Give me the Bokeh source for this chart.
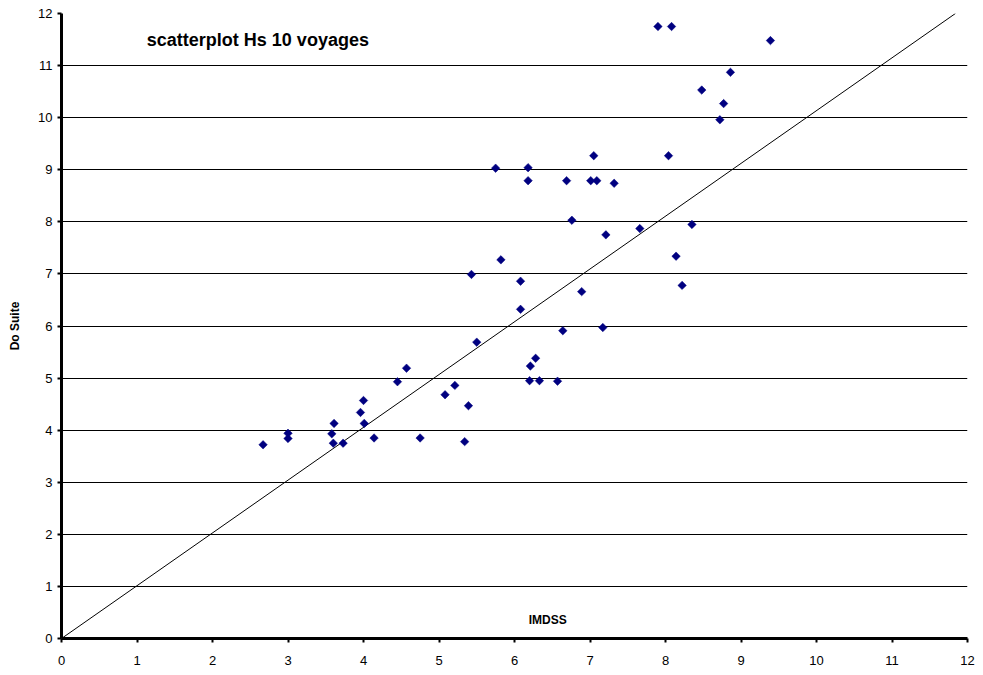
from bokeh.plotting import figure
from bokeh.models import Label, FixedTicker, ColumnDataSource, Range1d
from bokeh.embed import file_html
from bokeh.resources import INLINE
import math

# Data (IMDSS vs Do Suite significant wave height)
imdss = [2.67, 3.00, 3.00, 3.61, 3.58, 3.60, 3.73, 4.00, 3.96, 4.01, 4.14, 4.45, 4.57,
         4.75, 5.08, 5.21, 5.39, 5.34, 5.50, 6.20, 6.21, 6.28, 6.33, 6.57, 5.75, 6.18,
         6.18, 6.69, 7.01, 7.09, 7.32, 7.05, 8.04, 6.76, 7.66, 7.21, 8.35, 5.82, 5.43,
         6.08, 8.14, 8.22, 6.89, 6.08, 6.64, 7.17, 7.90, 8.08, 9.39, 8.86, 8.48, 8.77, 8.72]
do_suite = [3.72, 3.94, 3.84, 4.13, 3.93, 3.75, 3.75, 4.57, 4.34, 4.13, 3.85, 4.93, 5.19,
            3.85, 4.68, 4.86, 4.47, 3.78, 5.69, 4.95, 5.23, 5.38, 4.95, 4.94, 9.03, 9.04,
            8.79, 8.79, 8.79, 8.79, 8.74, 9.27, 9.27, 8.03, 7.87, 7.75, 7.95, 7.27, 6.99,
            6.86, 7.34, 6.78, 6.66, 6.32, 5.91, 5.97, 11.75, 11.75, 11.48, 10.87, 10.53, 10.27, 9.96]
ref_line_x = [0, 11.84]
ref_line_y = [0, 12]
ticks = list(range(0, 13))

p = figure(width=975, height=667, output_backend="svg", toolbar_location=None,
           x_range=Range1d(0, 12), y_range=Range1d(0, 12),
           min_border_left=61, min_border_right=8, min_border_top=13, min_border_bottom=20)
p.outline_line_color = None
p.background_fill_color = "white"

# grid
p.xgrid.grid_line_color = None
p.ygrid.grid_line_color = "black"
p.ygrid.grid_line_width = 1
p.ygrid.ticker = FixedTicker(ticks=ticks)

# axes
p.xaxis.ticker = FixedTicker(ticks=ticks)
p.yaxis.ticker = FixedTicker(ticks=ticks)
p.axis.axis_line_color = "black"
p.axis.axis_line_width = 3
p.axis.major_tick_line_color = "black"
p.axis.major_tick_line_width = 2
p.axis.minor_tick_line_color = None
p.axis.major_tick_in = 0
p.axis.major_label_text_font = "Liberation Sans"
p.axis.major_label_text_font_size = "13px"
p.axis.major_label_text_color = "black"
p.xaxis.major_tick_out = 4
p.xaxis.major_label_standoff = 13
p.yaxis.major_tick_out = 4
p.yaxis.major_label_standoff = 5

p.yaxis.axis_label = "Do Suite"
p.yaxis.axis_label_text_font = "Liberation Sans"
p.yaxis.axis_label_text_font_style = "bold"
p.yaxis.axis_label_text_font_size = "12px"
p.yaxis.axis_label_text_color = "black"
p.yaxis.axis_label_standoff = 13

src = ColumnDataSource(dict(x=imdss, y=do_suite))
p.line(ref_line_x, ref_line_y, line_color="black", line_width=1)
p.scatter("x", "y", source=src, marker="square", size=6, angle=math.pi / 4,
          fill_color="#000080", line_color="#000080", line_width=0.5)

p.add_layout(Label(x=1.13, y=11.5, text="scatterplot  Hs 10 voyages",
                   text_font="Liberation Sans", text_font_style="bold", text_color="black",
                   text_font_size="18px", text_baseline="middle", text_align="left"))
p.add_layout(Label(x=6.44, y=0.36, text="IMDSS",
                   text_font="Liberation Sans", text_font_style="bold", text_color="black",
                   text_font_size="12px", text_baseline="middle", text_align="center"))

open("out.html", "w").write(file_html(p, INLINE))
